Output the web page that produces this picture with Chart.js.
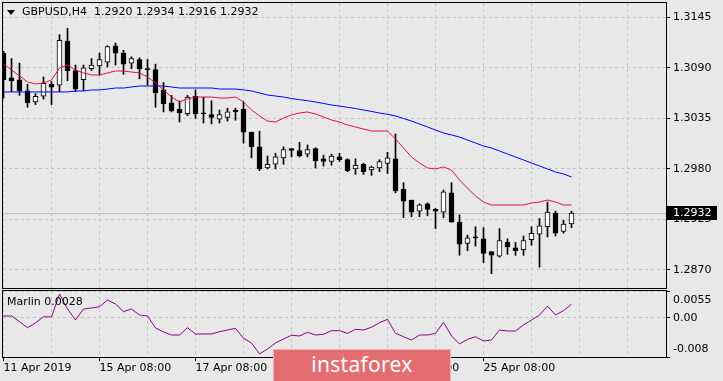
<!DOCTYPE html>
<html>
<head>
<meta charset="utf-8">
<script src="https://cdn.jsdelivr.net/npm/chart.js@4.4.1/dist/chart.umd.min.js"></script>
<style>
html,body{margin:0;padding:0;background:#e8e8e8;width:723px;height:381px;overflow:hidden;font-family:"DejaVu Sans",sans-serif;}
canvas{position:absolute;left:0;}
#main{top:0;}
#sub{top:290px;}
.lbl{position:absolute;font-family:"DejaVu Sans",sans-serif;font-size:11px;line-height:13px;color:#000;white-space:pre;}
#tri{position:absolute;left:7px;top:10px;width:0;height:0;border-left:4px solid transparent;border-right:4px solid transparent;border-top:5px solid #000;}
#wm{position:absolute;left:273px;top:349px;width:178px;height:32px;box-sizing:border-box;background:#e36d6f;border:1px solid #f2b5b6;border-bottom:none;color:#fff;font-family:"Noto Sans",sans-serif;font-size:21px;line-height:29px;text-align:center;letter-spacing:0.3px;}
</style>
</head>
<body>
<canvas id="main" width="723" height="290"></canvas>
<canvas id="sub" width="723" height="91"></canvas>
<div id="tri"></div>
<div class="lbl" id="title" style="left:22px;top:5px;"></div>
<div class="lbl" id="osclbl" style="left:7px;top:295px;"></div>
<div id="wm">instaforex</div>
<script>
// ---------- data ----------
const symbol = "GBPUSD";
const timeframe = "H4";
const indicatorName = "Marlin";

const openV = [1.3106,1.3079,1.3077,1.3065,1.3053,1.3059,1.3072,1.3071,1.3119,1.3087,
1.3077,1.3089,1.3092,1.3096,1.3114,1.3106,1.3095,1.3099,1.3089,1.3088,
1.3066,1.3052,1.3045,1.3040,1.3059,1.3041,1.3039,1.3034,1.3036,1.3044,
1.3045,1.3020,1.3004,1.2981,1.2985,1.2992,1.3002,1.3000,1.2996,1.3002,
1.2991,1.2988,1.2993,1.2990,1.2980,1.2985,1.2979,1.2981,1.2986,1.2991,
1.2958,1.2946,1.2934,1.2942,1.2936,1.2933,1.2954,1.2922,1.2899,1.2906,
1.2904,1.2890,1.2885,1.2900,1.2894,1.2892,1.2903,1.2909,1.2917,1.2932,
1.2912,1.2920];
const highV = [1.3108,1.3100,1.3095,1.3072,1.3062,1.3080,1.3075,1.3126,1.3133,1.3093,
1.3093,1.3100,1.3106,1.3114,1.3117,1.3109,1.3102,1.3101,1.3099,1.3094,
1.3074,1.3060,1.3054,1.3060,1.3066,1.3058,1.3054,1.3044,1.3046,1.3046,
1.3053,1.3020,1.3021,1.2994,1.2997,1.3004,1.3002,1.3009,1.3006,1.3003,
1.2995,1.2996,1.2997,1.2991,1.2991,1.2986,1.2983,1.2990,1.2998,1.3018,
1.2965,1.2946,1.2942,1.2943,1.2937,1.2957,1.2965,1.2930,1.2908,1.2917,
1.2916,1.2890,1.2915,1.2904,1.2900,1.2907,1.2917,1.2926,1.2944,1.2934,
1.2924,1.2934];
const lowV = [1.3057,1.3064,1.3060,1.3047,1.3050,1.3056,1.3050,1.3064,1.3076,1.3064,
1.3065,1.3087,1.3082,1.3091,1.3093,1.3083,1.3089,1.3078,1.3071,1.3047,
1.3042,1.3042,1.3031,1.3038,1.3035,1.3030,1.3029,1.3030,1.3032,1.3033,
1.3008,1.2992,1.2978,1.2980,1.2980,1.2985,1.2993,1.2993,1.2993,1.2981,
1.2983,1.2984,1.2988,1.2977,1.2974,1.2974,1.2973,1.2977,1.2975,1.2954,
1.2927,1.2928,1.2928,1.2929,1.2915,1.2927,1.2922,1.2886,1.2891,1.2896,
1.2878,1.2866,1.2884,1.2887,1.2886,1.2886,1.2897,1.2873,1.2906,1.2907,
1.2910,1.2916];
const closeV = [1.3077,1.3076,1.3065,1.3052,1.3059,1.3073,1.3069,1.3120,1.3087,1.3067,
1.3090,1.3093,1.3099,1.3113,1.3106,1.3094,1.3100,1.3089,1.3088,1.3063,
1.3051,1.3043,1.3041,1.3058,1.3040,1.3040,1.3036,1.3039,1.3042,1.3042,
1.3020,1.3004,1.2980,1.2985,1.2993,1.3001,1.3000,1.2994,1.3001,1.2989,
1.2988,1.2994,1.2990,1.2978,1.2984,1.2977,1.2982,1.2988,1.2992,1.2956,
1.2945,1.2933,1.2941,1.2936,1.2934,1.2955,1.2922,1.2898,1.2905,1.2905,
1.2888,1.2886,1.2902,1.2895,1.2891,1.2902,1.2910,1.2918,1.2933,1.2910,
1.2920,1.2932];
const maRed = [1.30942,1.30876,1.30811,1.30746,1.30724,1.30735,1.30767,1.30898,1.30931,1.30876,
1.30844,1.30822,1.30822,1.30844,1.30865,1.30865,1.30854,1.30844,1.30800,1.30735,
1.30659,1.30582,1.30528,1.30561,1.30582,1.30582,1.30582,1.30571,1.30571,1.30582,
1.30528,1.30441,1.30376,1.30321,1.30310,1.30354,1.30387,1.30408,1.30419,1.30397,
1.30365,1.30332,1.30310,1.30278,1.30256,1.30234,1.30212,1.30212,1.30212,1.30125,
1.30027,1.29929,1.29864,1.29810,1.29799,1.29821,1.29788,1.29679,1.29592,1.29505,
1.29440,1.29407,1.29407,1.29407,1.29407,1.29407,1.29429,1.29440,1.29461,1.29440,
1.29407,1.29407];
const maBlue = [1.30637,1.30637,1.30637,1.30637,1.30637,1.30637,1.30637,1.30637,1.30637,1.30648,
1.30648,1.30659,1.30659,1.30669,1.30680,1.30680,1.30691,1.30702,1.30702,1.30702,
1.30702,1.30691,1.30680,1.30680,1.30680,1.30680,1.30680,1.30669,1.30669,1.30669,
1.30659,1.30648,1.30626,1.30604,1.30593,1.30582,1.30566,1.30553,1.30542,1.30528,
1.30512,1.30495,1.30484,1.30470,1.30457,1.30441,1.30425,1.30408,1.30394,1.30376,
1.30348,1.30321,1.30289,1.30256,1.30223,1.30191,1.30169,1.30147,1.30114,1.30082,
1.30049,1.30027,1.29995,1.29962,1.29929,1.29897,1.29864,1.29832,1.29799,1.29766,
1.29745,1.29712];
const marlin = [0.00039,0.00039,-0.00078,-0.00201,-0.00104,0.00024,0.00018,0.00489,0.00182,-0.00043,
0.00182,0.00202,0.00229,0.00366,0.00284,0.00127,0.00182,0.00059,0.00039,-0.00207,
-0.00288,-0.00350,-0.00350,-0.00201,-0.00329,-0.00329,-0.00329,-0.00282,-0.00248,-0.00213,
-0.00417,-0.00513,-0.00738,-0.00636,-0.00513,-0.00432,-0.00356,-0.00370,-0.00295,-0.00350,
-0.00335,-0.00262,-0.00262,-0.00315,-0.00233,-0.00248,-0.00192,-0.00098,-0.00029,-0.00315,
-0.00385,-0.00452,-0.00350,-0.00350,-0.00315,-0.00090,-0.00370,-0.00534,-0.00438,-0.00385,
-0.00473,-0.00452,-0.00248,-0.00268,-0.00268,-0.00145,-0.00043,0.00059,0.00243,0.00059,
0.00147,0.00280];

const priceTicks = [1.2870, 1.2925, 1.2980, 1.3035, 1.3090, 1.3145];
const oscTicks = [-0.008, 0, 0.0055];
const oscTickLabels = ["-0.008", "0.00", "0.0055"];
const gridBars = [0, 6, 12, 18, 24, 30, 36, 42, 48, 54, 60, 66, 72, 78];
const labelBars = [0, 12, 24, 36, 48, 60];
const timeLabels = ["11 Apr 2019", "15 Apr 08:00", "17 Apr 08:00", "19 Apr 08:00", "23 Apr 08:00", "25 Apr 08:00"];

// ---------- helpers ----------
const FONT = "DejaVu Sans";
const GRID = "#c2c2c2";
const xMin = -0.0625, xMax = 82.8125;
const priceMin = 1.28504, priceMax = 1.31605;
const n = closeV.length;
const idx = closeV.map((_, i) => i);
const lastPrice = closeV[n - 1];

document.getElementById("title").textContent =
  symbol + "," + timeframe + "  " + openV[n-1].toFixed(4) + " " + highV[n-1].toFixed(4) + " " +
  lowV[n-1].toFixed(4) + " " + closeV[n-1].toFixed(4);
document.getElementById("osclbl").textContent = indicatorName + " " + marlin[n-1].toFixed(4);

const framePlugin = {
  id: "frame",
  afterDraw(chart) {
    const {ctx, chartArea: a} = chart;
    ctx.save();
    ctx.strokeStyle = "#000";
    ctx.lineWidth = 1;
    ctx.strokeRect(Math.round(a.left) - 0.5, Math.round(a.top) - 0.5,
      Math.round(a.right - a.left) + 1, Math.round(a.bottom - a.top) + 1);
    ctx.restore();
  }
};

const pricePlugin = {
  id: "priceLine",
  beforeDatasetsDraw(chart) {
    const {ctx, chartArea: a} = chart;
    const y = Math.round(chart.scales.y.getPixelForValue(lastPrice)) + 0.5;
    ctx.save();
    ctx.strokeStyle = "#c0c0c0";
    ctx.lineWidth = 1;
    ctx.beginPath();
    ctx.moveTo(a.left, y);
    ctx.lineTo(a.right, y);
    ctx.stroke();
    ctx.restore();
  },
  afterDraw(chart) {
    const {ctx, chartArea: a} = chart;
    const y = Math.round(chart.scales.y.getPixelForValue(lastPrice));
    ctx.save();
    ctx.fillStyle = "#000";
    ctx.fillRect(Math.round(a.right) + 1, y - 7, 50, 14);
    ctx.fillStyle = "#fff";
    ctx.font = "11px '" + FONT + "'";
    ctx.textBaseline = "middle";
    ctx.textAlign = "left";
    ctx.fillText(lastPrice.toFixed(4), Math.round(a.right) + 7, y + 0.5);
    ctx.restore();
  }
};

function xScale(showLabels) {
  return {
    type: "linear",
    min: xMin,
    max: xMax,
    offset: false,
    afterBuildTicks: s => { s.ticks = gridBars.map(v => ({value: v})); },
    afterFit: s => { s.height = showLabels ? 24 : 0; s.paddingLeft = 0; s.paddingRight = 0; },
    grid: {
      offset: false,
      color: GRID,
      lineWidth: 1,
      drawTicks: showLabels,
      tickLength: 4,
      tickBorderDash: [],
      tickColor: ctx => (ctx.tick && labelBars.indexOf(ctx.tick.value) >= 0) ? "#000" : "rgba(0,0,0,0)"
    },
    border: {display: false, dash: [3, 3]},
    ticks: {
      display: showLabels,
      autoSkip: false,
      maxRotation: 0,
      minRotation: 0,
      align: "start",
      padding: 1,
      color: "#000",
      font: {family: FONT, size: 11},
      callback: v => {
        const k = labelBars.indexOf(v);
        return k >= 0 ? timeLabels[k] : "";
      }
    }
  };
}

// ---------- main chart ----------
new Chart(document.getElementById("main"), {
  type: "bar",
  data: {
    datasets: [
      {
        type: "line", label: "MA fast", order: 0,
        data: idx.map(i => ({x: i, y: maRed[i]})),
        borderColor: "#e0143c", borderWidth: 1, pointRadius: 0, tension: 0, fill: false
      },
      {
        type: "line", label: "MA slow", order: 0,
        data: idx.map(i => ({x: i, y: maBlue[i]})),
        borderColor: "#0000ff", borderWidth: 1, pointRadius: 0, tension: 0, fill: false
      },
      {
        type: "bar", label: "body", order: 1, grouped: false,
        data: idx.map(i => ({x: i, y: [openV[i], closeV[i]]})),
        barThickness: 5, minBarLength: 1, borderSkipped: false,
        borderWidth: 1, borderColor: "#000",
        backgroundColor: ctx => closeV[ctx.dataIndex] >= openV[ctx.dataIndex] ? "#ffffff" : "#000000"
      },
      {
        type: "bar", label: "wick", order: 2, grouped: false,
        data: idx.map(i => ({x: i, y: [lowV[i], highV[i]]})),
        barThickness: 1, borderWidth: 0, backgroundColor: "#000"
      }
    ]
  },
  options: {
    responsive: false,
    devicePixelRatio: 1,
    animation: false,
    events: [],
    layout: {padding: {left: 3, top: 3, right: 0, bottom: 2}},
    plugins: {legend: {display: false}, tooltip: {enabled: false}},
    scales: {
      x: xScale(false),
      y: {
        type: "linear",
        position: "right",
        min: priceMin,
        max: priceMax,
        afterBuildTicks: s => { s.ticks = priceTicks.map(v => ({value: v})); },
        afterFit: s => { s.width = 57; s.paddingTop = 0; s.paddingBottom = 0; },
        grid: {color: GRID, lineWidth: 1, tickLength: 4, tickColor: "#000", tickBorderDash: []},
        border: {display: false, dash: [3, 3]},
        ticks: {
          autoSkip: false, padding: 3, color: "#000",
          font: {family: FONT, size: 11},
          callback: v => Number(v).toFixed(4)
        }
      }
    }
  },
  plugins: [pricePlugin, framePlugin]
});

// ---------- oscillator sub-window ----------
new Chart(document.getElementById("sub"), {
  type: "line",
  data: {
    datasets: [{
      label: indicatorName,
      data: idx.map(i => ({x: i, y: marlin[i]})),
      borderColor: "#8b008b", borderWidth: 1, pointRadius: 0, tension: 0, fill: false
    }]
  },
  options: {
    responsive: false,
    devicePixelRatio: 1,
    animation: false,
    events: [],
    layout: {padding: {left: 3, top: 1, right: 0, bottom: 0}},
    plugins: {legend: {display: false}, tooltip: {enabled: false}},
    scales: {
      x: xScale(true),
      y: {
        type: "linear",
        position: "right",
        min: oscTicks[0],
        max: oscTicks[oscTicks.length - 1],
        afterBuildTicks: s => { s.ticks = oscTicks.map(v => ({value: v})); },
        afterFit: s => { s.width = 57; s.paddingTop = 0; s.paddingBottom = 0; },
        grid: {color: GRID, lineWidth: 1, tickLength: 4, tickColor: "#000", tickBorderDash: []},
        border: {display: false, dash: [3, 3]},
        ticks: {
          autoSkip: false, padding: 3, color: "#000",
          font: ctx => ({family: FONT, size: 11,
            lineHeight: ctx.index === 0 ? "16px" : (ctx.index === oscTicks.length - 1 ? "18px" : 1.2)}),
          callback: (v, i) => {
            if (i === 0) return [oscTickLabels[0], ""];
            if (i === oscTicks.length - 1) return ["", oscTickLabels[i]];
            return oscTickLabels[i];
          }
        }
      }
    }
  },
  plugins: [framePlugin]
});
</script>
</body>
</html>
